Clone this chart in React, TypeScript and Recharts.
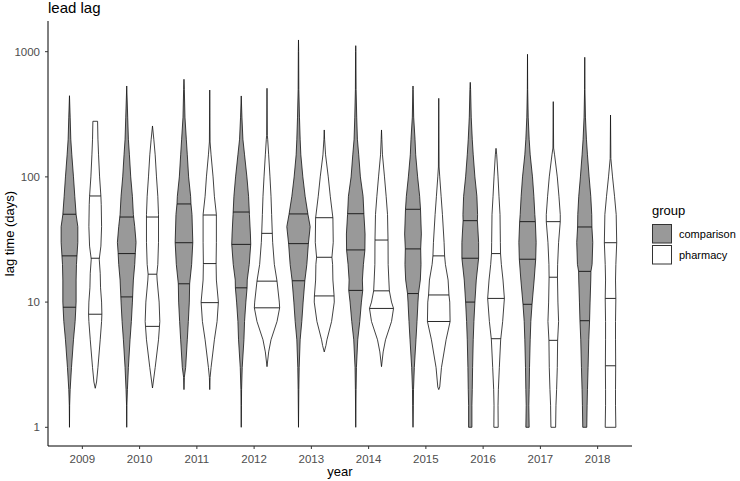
import { ComposedChart, Scatter, XAxis, YAxis, Legend } from "recharts";

const years = ["2009", "2010", "2011", "2012", "2013", "2014", "2015", "2016", "2017", "2018"];
const groups = ["comparison", "pharmacy"];
const groupFills = ["#999999", "#ffffff"];

// violin outline per year: [lag time in days, half width in category units], bottom to top
const comparisonShapes: [number, number][][] = [
  [[1, 0], [1.5, 0.003], [2, 0.012], [3, 0.035], [5, 0.07], [7, 0.099], [10, 0.116], [15, 0.116], [20, 0.122], [30, 0.146], [40, 0.146], [50, 0.116], [70, 0.093], [100, 0.07], [150, 0.041], [200, 0.023], [300, 0.012], [445, 0]],
  [[1, 0], [1.5, 0.003], [2, 0.012], [3, 0.029], [5, 0.058], [7, 0.081], [10, 0.099], [15, 0.116], [20, 0.14], [25, 0.151], [30, 0.163], [40, 0.14], [50, 0.116], [70, 0.099], [100, 0.07], [150, 0.047], [200, 0.029], [300, 0.017], [532, 0]],
  [[2, 0], [2.5, 0.006], [3, 0.029], [5, 0.058], [7, 0.076], [10, 0.093], [14, 0.099], [20, 0.134], [30, 0.154], [50, 0.14], [61, 0.122], [70, 0.116], [100, 0.081], [150, 0.058], [200, 0.041], [300, 0.017], [500, 0.006], [602, 0]],
  [[1, 0], [1.5, 0.003], [2, 0.006], [3, 0.017], [5, 0.047], [7, 0.058], [10, 0.081], [13, 0.102], [15, 0.105], [20, 0.14], [29, 0.166], [35, 0.16], [50, 0.143], [70, 0.128], [100, 0.099], [150, 0.058], [200, 0.029], [300, 0.012], [443, 0]],
  [[1, 0], [2, 0.006], [3, 0.012], [5, 0.029], [7, 0.058], [10, 0.081], [14.8, 0.111], [20, 0.146], [29, 0.172], [40, 0.204], [50, 0.166], [70, 0.116], [100, 0.076], [150, 0.041], [200, 0.029], [300, 0.017], [500, 0.006], [1000, 0.003], [1240, 0]],
  [[1, 0], [2, 0.006], [3, 0.012], [5, 0.035], [7, 0.07], [10, 0.099], [12.4, 0.122], [15, 0.116], [20, 0.134], [26, 0.16], [35, 0.163], [50, 0.143], [70, 0.128], [100, 0.081], [150, 0.052], [200, 0.029], [300, 0.017], [500, 0.006], [1000, 0.003], [1117, 0]],
  [[1, 0], [1.5, 0.006], [2, 0.009], [3, 0.023], [5, 0.052], [7, 0.07], [10, 0.087], [11.7, 0.096], [15, 0.128], [20, 0.14], [26.6, 0.134], [35, 0.146], [55, 0.131], [70, 0.116], [100, 0.081], [150, 0.047], [200, 0.035], [300, 0.012], [500, 0.003], [532, 0]],
  [[1, 0.029], [1.5, 0.029], [2, 0.035], [3, 0.041], [5, 0.052], [7, 0.064], [10, 0.081], [15, 0.105], [22.4, 0.146], [30, 0.146], [44.7, 0.125], [50, 0.128], [70, 0.116], [100, 0.081], [150, 0.052], [200, 0.035], [300, 0.017], [500, 0.006], [569, 0]],
  [[1, 0.029], [1.5, 0.023], [2, 0.029], [3, 0.035], [5, 0.047], [7, 0.058], [9.6, 0.079], [15, 0.116], [22, 0.143], [30, 0.151], [43.9, 0.137], [50, 0.128], [70, 0.111], [100, 0.087], [150, 0.047], [200, 0.029], [300, 0.012], [500, 0.003], [953, 0]],
  [[1, 0.035], [1.5, 0.041], [2, 0.047], [3, 0.058], [5, 0.07], [7.1, 0.084], [10, 0.093], [15, 0.105], [17.6, 0.108], [20, 0.128], [30, 0.14], [39.8, 0.125], [50, 0.122], [70, 0.105], [100, 0.076], [150, 0.047], [200, 0.029], [300, 0.012], [500, 0.003], [902, 0]],
];

const pharmacyShapes: [number, number][][] = [
  [[2.05, 0], [2.3, 0.023], [3, 0.047], [5, 0.087], [7, 0.111], [8, 0.116], [10, 0.111], [13, 0.093], [17, 0.087], [22, 0.07], [28, 0.099], [40, 0.111], [60, 0.105], [70, 0.099], [100, 0.076], [150, 0.058], [200, 0.047], [278, 0.041]],
  [[2.06, 0], [3, 0.047], [5, 0.105], [6.4, 0.122], [7, 0.128], [10, 0.116], [15, 0.081], [16.7, 0.076], [20, 0.093], [30, 0.105], [50, 0.105], [70, 0.093], [100, 0.07], [150, 0.047], [200, 0.023], [255, 0]],
  [[2, 0], [2.5, 0.006], [3, 0.023], [5, 0.081], [7, 0.128], [10, 0.151], [15, 0.116], [20, 0.111], [30, 0.116], [50, 0.116], [70, 0.081], [100, 0.058], [150, 0.023], [190, 0.006], [494, 0]],
  [[3.05, 0], [4, 0.029], [5, 0.07], [7, 0.175], [9, 0.221], [10, 0.215], [14.7, 0.175], [20, 0.128], [30, 0.099], [35, 0.093], [50, 0.081], [70, 0.07], [100, 0.052], [150, 0.029], [200, 0.012], [215, 0.006], [510, 0]],
  [[4, 0], [4.5, 0.029], [5, 0.047], [7, 0.128], [10, 0.175], [11.2, 0.172], [15, 0.151], [20, 0.146], [22.8, 0.134], [30, 0.157], [47, 0.151], [70, 0.105], [100, 0.07], [150, 0.023], [200, 0.006], [237, 0]],
  [[3.05, 0], [4, 0.029], [5, 0.07], [7, 0.175], [8.9, 0.21], [10, 0.175], [12.3, 0.137], [15, 0.128], [20, 0.116], [31, 0.114], [50, 0.105], [70, 0.081], [100, 0.052], [150, 0.017], [200, 0.006], [237, 0]],
  [[2, 0], [2.1, 0.017], [3, 0.047], [5, 0.128], [7, 0.198], [10, 0.192], [11.4, 0.178], [15, 0.163], [20, 0.116], [23.4, 0.102], [30, 0.093], [50, 0.064], [70, 0.041], [100, 0.017], [120, 0.006], [424, 0]],
  [[1, 0.038], [1.5, 0.035], [2, 0.041], [3, 0.058], [5, 0.081], [7, 0.116], [10.7, 0.146], [15, 0.122], [20, 0.093], [24.4, 0.079], [30, 0.076], [50, 0.07], [70, 0.052], [100, 0.035], [150, 0.012], [169, 0]],
  [[1, 0.041], [1.5, 0.047], [2, 0.058], [3, 0.07], [4.95, 0.076], [7, 0.093], [10, 0.081], [15.8, 0.073], [20, 0.076], [30, 0.093], [43.9, 0.122], [50, 0.122], [70, 0.099], [100, 0.07], [150, 0.023], [170, 0.006], [399, 0]],
  [[1, 0.093], [1.5, 0.087], [2, 0.087], [3.1, 0.09], [5, 0.087], [7, 0.087], [10.7, 0.093], [15, 0.087], [20, 0.093], [29.8, 0.108], [50, 0.099], [70, 0.07], [100, 0.035], [140, 0.006], [312, 0]],
];

// 25%, 50%, 75% quantiles per year
const comparisonQuantiles = [
  [9.1, 23.4, 50.3], [11.0, 24.4, 47.8], [14.0, 29.8, 60.8], [13.0, 28.9, 52.4], [14.8, 29.3, 50.6],
  [12.4, 26.1, 50.8], [11.7, 26.6, 55.1], [10.0, 22.4, 44.7], [9.6, 22.0, 43.9], [7.1, 17.6, 39.8],
];
const pharmacyQuantiles = [
  [8.0, 22.4, 70.4], [6.4, 16.7, 47.8], [9.9, 20.3, 49.6], [9.0, 14.7, 35.4], [11.2, 22.8, 47.2],
  [8.9, 12.3, 31.3], [7.0, 11.4, 23.4], [5.1, 10.7, 24.4], [4.95, 15.8, 43.9], [3.1, 10.7, 29.8],
];

const yTicks = [1, 10, 100, 1000];

const DODGE = 0.225;
const FONT = "'Liberation Sans', Arial, sans-serif";
const LINE = "#111";

type Pt = { x: number; y: number };

// width of the violin at a given lag (log y)
function widthAt(profile: [number, number][], d: number) {
  const t = Math.log10(d);
  for (let i = 1; i < profile.length; i++) {
    const [d0, w0] = profile[i - 1];
    const [d1, w1] = profile[i];
    if (d >= d0 && d <= d1) {
      const l0 = Math.log10(d0);
      const l1 = Math.log10(d1);
      const f = l1 === l0 ? 0 : (t - l0) / (l1 - l0);
      return w0 + f * (w1 - w0);
    }
  }
  return 0;
}

const violins = groups.flatMap((g, gi) =>
  years.map((yr, i) => {
    const center = i + 1 + (gi === 0 ? -DODGE : DODGE);
    const profile = gi === 0 ? comparisonShapes[i] : pharmacyShapes[i];
    const qs = gi === 0 ? comparisonQuantiles[i] : pharmacyQuantiles[i];
    const outline: Pt[] = [
      ...profile.map(([d, w]) => ({ x: center + w, y: d })),
      ...profile
        .slice()
        .reverse()
        .map(([d, w]) => ({ x: center - w, y: d })),
    ];
    const qLines: Pt[] = qs.flatMap((q) => {
      const w = widthAt(profile, q);
      return [
        { x: center - w, y: q },
        { x: center + w, y: q },
      ];
    });
    return { key: `${g}-${yr}`, fill: groupFills[gi], outline, qLines };
  })
);

const closedPath = (pts: Pt[]) =>
  pts.map((p, i) => `${i ? "L" : "M"}${p.x},${p.y}`).join("") + "Z";
const segmentPath = (pts: Pt[]) =>
  pts.map((p, i) => `${i % 2 ? "L" : "M"}${p.x},${p.y}`).join("");

const noDot = () => <g />;

function YTitle(props: any) {
  const vb = props.viewBox;
  const x = vb.x + 14;
  const y = vb.y + vb.height / 2;
  return (
    <text x={x} y={y} transform={`rotate(-90 ${x} ${y})`} textAnchor="middle" fontSize={13} fontFamily={FONT} fill="#000">
      lag time (days)
    </text>
  );
}

function XTitle(props: any) {
  const vb = props.viewBox;
  return (
    <text x={vb.x + vb.width / 2} y={vb.y + 30} textAnchor="middle" fontSize={13} fontFamily={FONT} fill="#000">
      year
    </text>
  );
}

function GroupLegend() {
  return (
    <svg width={95} height={70} style={{ display: "block" }}>
      <text x={7} y={15} fontSize={13} fontFamily={FONT} fill="#000">
        group
      </text>
      {groups.map((g, i) => (
        <g key={g}>
          <rect x={7.5} y={24.5 + i * 21} width={19} height={18.5} fill={groupFills[i]} stroke="#333" strokeWidth={1} />
          <text x={34} y={34 + i * 21} dominantBaseline="central" fontSize={11} fontFamily={FONT} fill="#000">
            {g}
          </text>
        </g>
      ))}
    </svg>
  );
}

export default function App() {
  return (
    <div style={{ position: "absolute", left: 0, top: 0, width: 740, height: 481, background: "#fff" }}>
      <svg width={120} height={20} style={{ position: "absolute", left: 0, top: 0, zIndex: 2 }}>
        <text x={48} y={13} fontSize={15} fontFamily={FONT} fill="#000">
          lead lag
        </text>
      </svg>
      <ComposedChart width={740} height={481} margin={{ top: 21, right: 108, bottom: 0, left: 0 }}>
        <XAxis
          type="number"
          dataKey="x"
          domain={[0.4, 10.6]}
          allowDataOverflow
          ticks={years.map((_, i) => i + 1)}
          tickFormatter={(v: number) => years[v - 1]}
          height={35}
          tickSize={3}
          tickMargin={6}
          axisLine={{ stroke: "#000", strokeWidth: 1 }}
          tickLine={{ stroke: "#333" }}
          tick={{ fill: "#4d4d4d", fontSize: 11.5, fontFamily: FONT }}
          label={{ content: (p: any) => <XTitle {...p} /> }}
        />
        <YAxis
          type="number"
          dataKey="y"
          scale="log"
          domain={[0.709, 1758]}
          allowDataOverflow
          ticks={yTicks}
          width={48}
          tickSize={3}
          tickMargin={5}
          axisLine={{ stroke: "#000", strokeWidth: 1 }}
          tickLine={{ stroke: "#333" }}
          tick={{ fill: "#4d4d4d", fontSize: 11.5, fontFamily: FONT }}
          label={{ content: (p: any) => <YTitle {...p} /> }}
        />
        <Legend
          layout="horizontal"
          verticalAlign="middle"
          align="center"
          content={() => <GroupLegend />}
          wrapperStyle={{ left: 645, top: 200, width: 95, height: 70 }}
        />
        {violins.map((v) => (
          <Scatter
            key={v.key}
            name={v.key}
            data={v.outline}
            isAnimationActive={false}
            shape={noDot}
            legendType="none"
            line={(p: any) => (
              <path d={closedPath(p.points)} fill={v.fill} stroke={LINE} strokeWidth={0.8} strokeLinejoin="round" />
            )}
          />
        ))}
        {violins.map((v) => (
          <Scatter
            key={v.key + "-q"}
            name={v.key + "-q"}
            data={v.qLines}
            isAnimationActive={false}
            shape={noDot}
            legendType="none"
            line={(p: any) => <path d={segmentPath(p.points)} fill="none" stroke={LINE} strokeWidth={0.9} />}
          />
        ))}
      </ComposedChart>
    </div>
  );
}
